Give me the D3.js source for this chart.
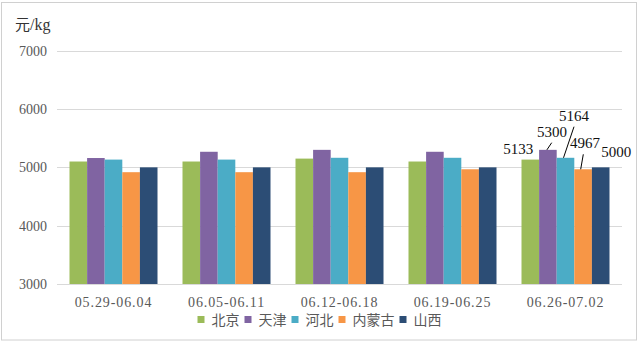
<!DOCTYPE html>
<html>
<head>
<meta charset="utf-8">
<script src="https://cdn.jsdelivr.net/npm/d3@7/dist/d3.min.js"></script>
<style>
  html, body { margin: 0; padding: 0; background: #fff; }
  svg { display: block; }
</style>
</head>
<body>
<svg id="chart" width="643" height="346"></svg>
<script>
// Weekly price by region, 元/kg
const weeks = ["05.29-06.04", "06.05-06.11", "06.12-06.18", "06.19-06.25", "06.26-07.02"];
const regions = ["北京", "天津", "河北", "内蒙古", "山西"];
const beijing   = [5100, 5100, 5150, 5100, 5133];
const tianjin   = [5160, 5267, 5300, 5267, 5300];
const hebei     = [5133, 5133, 5164, 5164, 5164];
const neimenggu = [4917, 4917, 4917, 4967, 4967];
const shanxi    = [5000, 5000, 5000, 5000, 5000];
const yTicks = [3000, 4000, 5000, 6000, 7000];
const unitMain = "元";
const unitRest = "/kg";
const colors = ["#9BBB59", "#8064A2", "#4BACC6", "#F79646", "#2C4D75"];

const seriesValues = [beijing, tianjin, hebei, neimenggu, shanxi];
const table = weeks.map((w, i) => ({
  week: w,
  values: regions.map((r, j) => ({ region: r, value: seriesValues[j][i], j }))
}));

const svg = d3.select("#chart");
const serif = "'Liberation Serif', 'DejaVu Serif', serif";
const cjk = "'Noto Sans CJK SC', 'Liberation Serif', sans-serif";

// outer frame
svg.append("rect")
  .attr("x", 1.5).attr("y", 2.5).attr("width", 635).attr("height", 337.5)
  .attr("fill", "#fff").attr("stroke", "#d0d0d0").attr("stroke-width", 1);

const plot = { left: 57, right: 622, top: 50.7, bottom: 284 };

const x0 = d3.scaleBand().domain(weeks).range([plot.left, plot.right]).padding(0);
const inner = 12.5;
const x1 = d3.scaleBand().domain(regions)
  .range([inner, x0.bandwidth() - inner]).padding(0);
const y = d3.scaleLinear().domain([3000, 7000]).range([plot.bottom, plot.top]);

// gridlines
svg.append("g")
  .selectAll("line").data(yTicks).join("line")
  .attr("x1", plot.left).attr("x2", plot.right)
  .attr("y1", d => Math.round(y(d)) + 0.5).attr("y2", d => Math.round(y(d)) + 0.5)
  .attr("stroke", "#d9d9d9").attr("stroke-width", 1);

// y axis labels
const yAxis = d3.axisLeft(y).tickValues(yTicks).tickSize(0).tickPadding(10).tickFormat(d3.format("d"));
const gy = svg.append("g").attr("transform", `translate(${plot.left},0)`).call(yAxis);
gy.select(".domain").remove();
gy.selectAll("text")
  .attr("fill", "#595959").attr("font-family", serif).attr("font-size", 14);

// bars
const groups = svg.append("g").selectAll("g").data(table).join("g")
  .attr("transform", d => `translate(${x0(d.week)},0)`);
groups.selectAll("rect").data(d => d.values).join("rect")
  .attr("x", d => x1(d.region))
  .attr("width", x1.bandwidth())
  .attr("y", d => y(d.value))
  .attr("height", d => y(3000) - y(d.value))
  .attr("fill", d => colors[d.j]);

// x axis
const xAxis = d3.axisBottom(x0).tickSize(0).tickPadding(10);
const gx = svg.append("g").attr("transform", `translate(0,${plot.bottom})`).call(xAxis);
gx.select(".domain").attr("stroke", "#d9d9d9").attr("d", `M${plot.left},0.5H${plot.right}`);
gx.selectAll("text")
  .attr("fill", "#595959").attr("font-family", serif).attr("font-size", 14)
  .attr("letter-spacing", 0.9).attr("dy", "0.95em");

// data labels on the latest week, with leader lines where the label is lifted away
const last = table[table.length - 1];
const labelOffsets = [
  { dx: -12,  ty: 153.5, leader: false },
  { dx: 4,    ty: 136.5, leader: true, sx: -1,   ex: 3.8, ey: 142.7 },
  { dx: 8.5,  ty: 120.5, leader: true, sx: -2,   ex: 8.5, ey: 126.7 },
  { dx: 2,    ty: 147.5, leader: true, sx: -2.4, ex: 0.2, ey: 154.3 },
  { dx: 15.5, ty: 156.5, leader: false }
];
const lab = svg.append("g").attr("transform", `translate(${x0(last.week)},0)`);
last.values.forEach((d, k) => {
  const o = labelOffsets[k];
  const cx = x1(d.region) + x1.bandwidth() / 2;
  if (o.leader) {
    lab.append("line")
      .attr("x1", cx + o.sx).attr("y1", y(d.value))
      .attr("x2", cx + o.ex).attr("y2", o.ey)
      .attr("stroke", "#000").attr("stroke-width", 1);
  }
  lab.append("text")
    .attr("x", cx + o.dx).attr("y", o.ty)
    .attr("text-anchor", "middle")
    .attr("font-family", serif).attr("font-size", 15)
    .attr("fill", "#111")
    .text(d3.format("d")(d.value));
});

// unit label
const unit = svg.append("text")
  .attr("x", 15).attr("y", 30)
  .attr("font-size", 16).attr("fill", "#333");
unit.append("tspan").attr("font-family", cjk).attr("font-size", 15).text(unitMain);
unit.append("tspan").attr("font-family", serif).text(unitRest);

// legend
const legend = svg.append("g");
let lx = 0;
regions.forEach((r, j) => {
  const g = legend.append("g").attr("transform", `translate(${lx},0)`);
  g.append("rect").attr("x", 0).attr("y", -3.5).attr("width", 7).attr("height", 7).attr("fill", colors[j]);
  const t = g.append("text").attr("x", 14).attr("y", 0).attr("dy", "0.36em")
    .attr("font-family", cjk).attr("font-size", 14).attr("fill", "#595959").text(r);
  const w = t.node().getComputedTextLength();
  lx += 14 + w + 5;
});
const legendWidth = lx - 5;
legend.attr("transform", `translate(${319.5 - legendWidth / 2},319.5)`);
</script>
</body>
</html>
